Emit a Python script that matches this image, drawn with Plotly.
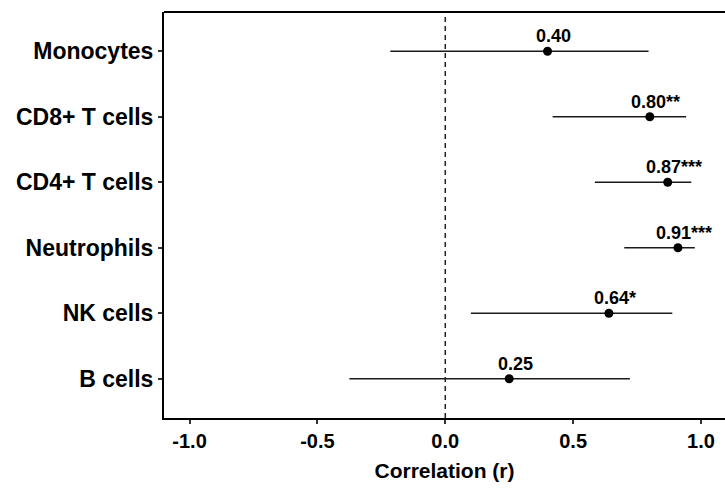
import plotly.graph_objects as go

# ---- data ----
cell_types = ["Monocytes", "CD8+ T cells", "CD4+ T cells", "Neutrophils", "NK cells", "B cells"]
r_values = [0.40, 0.80, 0.87, 0.91, 0.64, 0.25]
ci_lower = [-0.215, 0.42, 0.585, 0.70, 0.10, -0.375]
ci_upper = [0.795, 0.942, 0.962, 0.976, 0.888, 0.722]
significance = ["", "**", "***", "***", "*", ""]
x_tick_vals = [-1.0, -0.5, 0.0, 0.5, 1.0]
x_tick_text = ["-1.0", "-0.5", "0.0", "0.5", "1.0"]

FONT = "Liberation Sans, Arial, Helvetica, sans-serif"

err_plus = [u - r for u, r in zip(ci_upper, r_values)]
err_minus = [r - l for r, l in zip(r_values, ci_lower)]

fig = go.Figure()
fig.add_trace(go.Scatter(
    x=r_values, y=cell_types, mode="markers",
    marker=dict(color="black", size=9),
    error_x=dict(type="data", symmetric=False, array=err_plus, arrayminus=err_minus,
                 width=0, thickness=1.6, color="#1a1a1a"),
    showlegend=False, hoverinfo="skip",
))

for ct, r, s in zip(cell_types, r_values, significance):
    fig.add_annotation(
        x=r, y=ct, text=f"{r:.2f}{s}", showarrow=False,
        xshift=6, yshift=15, yanchor="middle",
        font=dict(family=FONT, size=18, color="black", weight="bold"),
    )

# dashed zero line
fig.add_shape(type="line", x0=0, x1=0, y0=0, y1=1, xref="x", yref="paper",
              line=dict(color="#222222", width=1.5, dash="5px,4px"), layer="below")
# top border
fig.add_shape(type="line", x0=0, x1=1, y0=1, y1=1, xref="paper", yref="paper",
              line=dict(color="black", width=2))

fig.update_layout(
    width=725, height=489,
    margin=dict(l=164, r=0, t=12, b=71),
    plot_bgcolor="white", paper_bgcolor="white",
    font=dict(family=FONT, color="black"),
    xaxis=dict(
        range=[-1.1, 1.094], tickvals=x_tick_vals, ticktext=x_tick_text,
        showgrid=False, zeroline=False, showline=True, linecolor="black", linewidth=2,
        ticks="outside", ticklen=4, tickwidth=1.5, tickcolor="#333333",
        tickfont=dict(family=FONT, size=20, color="black", weight="bold"),
        title=dict(text="Correlation (r)", standoff=12,
                   font=dict(family=FONT, size=21, color="black", weight="bold")),
    ),
    yaxis=dict(
        categoryorder="array", categoryarray=list(reversed(cell_types)),
        range=[-0.6, 5.6],
        showgrid=False, zeroline=False, showline=True, linecolor="black", linewidth=2,
        ticks="outside", ticklen=4, tickwidth=1.5, tickcolor="#333333",
        tickfont=dict(family=FONT, size=23, color="black", weight="bold"),
    ),
)

fig.write_html("out.html")
